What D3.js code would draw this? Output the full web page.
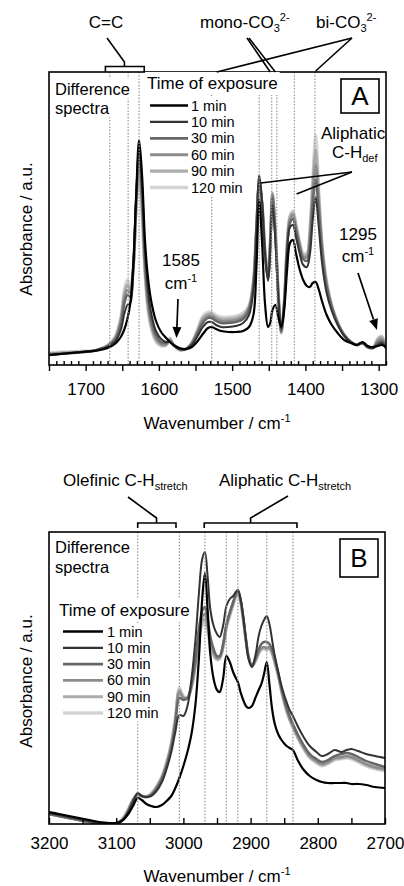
<!DOCTYPE html>
<html><head><meta charset="utf-8">
<script src="https://cdn.jsdelivr.net/npm/d3@7"></script>
<style>
body{margin:0;background:#fff}
svg{display:block}
text{font-family:"Liberation Sans",Arial,Helvetica,sans-serif;fill:#000}
</style>
</head><body>
<svg id="c" width="404" height="886"></svg>
<script>
// ---------- DATA ----------
const seriesNames = ["1 min","10 min","30 min","60 min","90 min","120 min"];

// Panel A: 1750-1290 cm-1
const wnA = [1750,1735,1720,1705,1690,1680,1670,1660,1652,1647,
 1643,1639,1635,1631,1627,1623,1619,1615,1610,1604,
 1597,1590,1585,1580,1572,1563,1555,1547,1540,1533,
 1528,1522,1515,1505,1495,1485,1477,1471,1467,1463,
 1459,1455,1451,1448,1445,1441,1437,1433,1429,1425,
 1421,1417,1413,1408,1403,1398,1394,1390,1386,1382,
 1377,1371,1364,1356,1347,1338,1330,1322,1315,1308,
 1301,1296,1290];
const a1 = [10,11,12,13,14,15,17,21,28,36,
 46,62,100,170,225,190,125,88,62,44,
 33,27,23,20,17,16,18,24,31,37,
 38,36,34,33,33,34,38,50,95,165,
 120,60,38,42,55,60,48,38,55,95,
 122,125,112,96,85,79,78,82,83,76,
 63,50,40,32,25,22,20,23,19,18,
 19,20,18];
const a10 = [10,11,12,13,14,16,18,23,35,52,
 60,62,98,168,220,180,115,76,50,34,
 26,23,23,20,16,16,20,29,38,43,
 43,40,38,38,39,42,50,75,130,190,
 162,110,84,115,160,125,68,36,60,112,
 138,140,128,112,100,98,110,145,168,140,
 100,72,54,40,29,23,20,22,18,17,
 20,22,17];
const a30 = [10,11,12,13,14,16,19,25,40,62,
 70,68,95,165,212,170,105,68,44,30,
 23,22,24,20,16,16,21,32,42,47,
 47,44,42,42,43,46,55,80,135,185,
 160,110,86,120,168,130,70,34,60,115,
 142,146,135,118,106,104,120,160,185,155,
 110,78,58,42,30,23,20,22,18,17,
 22,24,17];
const a60 = [11,12,12,13,14,16,19,26,44,68,
 75,72,95,160,205,162,98,62,40,27,
 21,21,25,20,16,16,22,34,45,49,
 49,46,44,44,45,48,57,82,135,183,
 160,112,88,122,171,132,72,33,62,118,
 146,150,138,120,108,108,128,172,200,165,
 115,80,58,42,30,23,20,22,18,17,
 24,26,17];
const a90 = [11,12,13,13,14,16,19,27,46,72,
 80,76,96,158,200,156,94,58,37,25,
 20,20,26,20,15,16,22,35,47,51,
 51,48,46,46,47,50,58,83,134,180,
 160,113,89,123,172,133,73,32,62,120,
 148,152,140,122,110,110,132,180,215,172,
 118,82,59,42,30,23,20,22,18,17,
 26,28,18];
const a120 = [12,13,13,14,14,16,20,28,48,76,
 85,80,98,156,195,150,90,55,35,23,
 19,20,27,20,15,16,23,36,49,53,
 53,50,48,48,49,52,60,85,134,178,
 160,114,90,124,172,134,74,32,63,122,
 150,154,142,124,112,112,136,188,230,180,
 120,84,60,43,30,23,20,22,18,17,
 27,29,18];

// Panel B: 3200-2700 cm-1
const wnB = [3200,3185,3170,3155,3140,3125,3110,3100,3090,3082,
 3075,3068,3062,3055,3048,3040,3032,3025,3018,3012,
 3006,3000,2994,2988,2982,2977,2972,2968,2964,2960,
 2955,2950,2946,2941,2936,2931,2926,2922,2919,2915,
 2911,2907,2903,2898,2893,2888,2884,2880,2876,2872,
 2868,2864,2859,2854,2848,2842,2837,2830,2822,2812,
 2802,2794,2785,2775,2765,2757,2750,2740,2728,2715,
 2700];
const b1 = [12,10,8,6,4,2,1,1,4,10,
 18,26,24,20,18,17,19,23,28,36,
 46,58,72,90,120,165,225,251,215,170,
 145,134,132,145,168,162,152,146,142,132,
 124,118,116,118,126,134,140,150,162,140,
 115,100,90,84,79,76,74,64,55,48,
 44,42,41,41,41,41,40,40,39,37,
 36];
const b10 = [11,9,7,5,3,1,0,0,4,12,
 22,31,28,27,28,33,42,55,72,92,
 109,108,118,145,185,230,265,272,248,215,
 198,190,187,198,218,225,228,232,234,225,
 208,185,165,157,168,188,198,204,208,200,
 184,168,152,138,125,114,108,98,88,78,
 72,68,70,74,72,74,75,73,70,68,
 66];
const b30 = [10,8,6,4,2,0,0,0,4,13,
 23,30,28,27,29,35,45,58,76,100,
 126,124,126,140,165,195,213,217,205,188,
 175,168,168,180,200,212,222,230,234,225,
 207,185,167,158,165,175,180,182,182,180,
 175,166,152,136,120,108,100,90,80,70,
 65,62,64,68,70,71,70,67,63,60,
 57];
const b60 = [10,8,6,4,2,0,0,0,5,14,
 24,30,28,27,29,36,46,60,78,103,
 132,126,126,138,162,190,207,210,200,184,
 172,166,167,178,198,210,221,229,233,224,
 206,184,167,158,164,172,176,177,176,177,
 172,163,150,134,118,106,98,88,78,68,
 63,60,62,66,67,68,67,64,60,57,
 55];
const b90 = [10,8,6,4,2,0,0,0,5,14,
 24,29,28,27,30,37,47,61,80,105,
 134,127,126,137,160,186,202,205,196,181,
 170,165,166,177,197,209,220,228,232,223,
 205,184,167,158,163,171,175,176,175,176,
 171,162,149,133,117,105,97,87,77,67,
 62,59,61,65,66,67,66,63,59,56,
 54];
const b120 = [10,8,6,4,2,0,0,1,6,15,
 25,29,28,28,31,38,48,62,82,107,
 136,128,126,136,158,183,198,200,192,178,
 168,164,165,176,196,208,219,227,231,222,
 204,183,167,158,162,170,174,175,174,175,
 170,161,148,132,116,104,96,86,76,66,
 61,58,60,64,65,66,65,62,58,55,
 53];

const dottedA = [1667,1642,1627,1528,1463,1446,1439,1415,1387];
const dottedB = [3068,3006,2968,2936,2919,2876,2837];
const tickLabelsA = [1700,1600,1500,1400,1300];
const tickLabelsB = [3200,3100,3000,2900,2800,2700];
const majorTicksA = [1750,1700,1650,1600,1550,1500,1450,1400,1350,1300];
const majorTicksB = [3200,3150,3100,3050,3000,2950,2900,2850,2800,2750,2700];

// ---------- STYLE ----------
const colors = ["#000000","#333333","#666666","#8c8c8c","#adadad","#d4d4d4"];
const widths = [2.2,2.0,2.4,2.6,2.8,3.0];
const FONT = 17;
const LEGFONT = 14.5;

const svg = d3.select("#c");

function panel(o){
  const x = d3.scaleLinear().domain(o.domain).range([o.l,o.r]);
  const y = d3.scaleLinear().domain([0,o.ymax]).range([o.b,o.t]);
  const g = svg.append("g");
  svg.append("clipPath").attr("id","clip"+o.name).append("rect")
    .attr("x",o.l).attr("y",o.t).attr("width",o.r-o.l).attr("height",o.b-o.t);
  const line = d3.line().x((d,i)=>x(o.wn[i])).y(d=>y(d)).curve(d3.curveCatmullRom.alpha(0.5));
  const gl = g.append("g").attr("clip-path","url(#clip"+o.name+")");
  for(let k=o.series.length-1;k>=0;k--){
    gl.append("path").attr("d",line(o.series[k])).attr("fill","none")
      .attr("stroke",colors[k]).attr("stroke-width",widths[k])
      .attr("stroke-linejoin","round").attr("stroke-linecap","round");
  }
  g.append("g").selectAll("line").data(o.dotted).join("line")
    .attr("x1",d=>x(d)).attr("x2",d=>x(d)).attr("y1",o.t).attr("y2",o.b)
    .attr("stroke","#9a9a9a").attr("stroke-width",1.2).attr("stroke-dasharray","1.6,1.6");
  g.append("rect").attr("x",o.l).attr("y",o.t).attr("width",o.r-o.l).attr("height",o.b-o.t)
    .attr("fill","none").attr("stroke","#000").attr("stroke-width",1.6);
  return {x,y,g};
}

function styleAxis(sel){
  sel.select(".domain").remove();
  sel.selectAll("line").attr("stroke","#000").attr("stroke-width",1.4);
  sel.selectAll("text").attr("font-size",FONT).attr("font-family","Liberation Sans, Arial, sans-serif").attr("fill","#000");
}

// multipart text
function mtext(parent, parts, x, y, anchor, size){
  const t = parent.append("text").attr("x",x).attr("y",y).attr("font-size",size||FONT)
    .attr("text-anchor",anchor||"start");
  let off=0;
  parts.forEach(p=>{
    const txt = typeof p==="string"?p:p[0];
    const kind = typeof p==="string"?"n":p[1];
    const target = kind==="sub"?4:(kind==="sup"?-7:0);
    const ts = t.append("tspan").text(txt).attr("dy",target-off);
    if(kind!=="n") ts.attr("font-size",11);
    off=target;
  });
  return t;
}
function whiteBg(t,pad){
  const bb = t.node().getBBox();
  const r = document.createElementNS("http://www.w3.org/2000/svg","rect");
  t.node().parentNode.insertBefore(r, t.node());
  d3.select(r).attr("x",bb.x-pad).attr("y",bb.y-pad).attr("width",bb.width+2*pad)
    .attr("height",bb.height+2*pad).attr("fill","#fff");
}
function arrow(x1,y1,x2,y2){
  const dx=x2-x1, dy=y2-y1, L=Math.hypot(dx,dy), ux=dx/L, uy=dy/L;
  const hl=11, hw=4.5;
  const bx=x2-ux*hl, by=y2-uy*hl;
  svg.append("line").attr("x1",x1).attr("y1",y1).attr("x2",bx).attr("y2",by)
    .attr("stroke","#000").attr("stroke-width",1.7);
  svg.append("path").attr("d",`M${x2},${y2}L${bx-uy*hw},${by+ux*hw}L${bx+uy*hw},${by-ux*hw}Z`).attr("fill","#000");
}
function seg(pts){
  svg.append("path").attr("d",d3.line()(pts)).attr("fill","none").attr("stroke","#000").attr("stroke-width",1.6);
}
function legend(tx,ty,lx1,lx2,ex,ey0,dy){
  const lg = svg.append("g");
  const title = mtext(lg,["Time of exposure"],tx,ty);
  whiteBg(title,2);
  seriesNames.forEach((n,i)=>{
    const yy = ey0+i*dy;
    const t = mtext(lg,[n],ex,yy,"start",LEGFONT);
    whiteBg(t,0.5);
    lg.append("line").attr("x1",lx1).attr("x2",lx2).attr("y1",yy-5).attr("y2",yy-5)
      .attr("stroke",colors[i]).attr("stroke-width",widths[i]+0.3);
  });
}
function diffLabel(x,y1,y2){
  const g=svg.append("g");
  const t1=mtext(g,["Difference"],x,y1,"start",16.5); whiteBg(t1,1);
  const t2=mtext(g,["spectra"],x,y2,"start",16.5); whiteBg(t2,1);
}
function panelLabel(letter,x,y,w,h){
  svg.append("rect").attr("x",x).attr("y",y).attr("width",w).attr("height",h)
    .attr("fill","#fff").attr("stroke","#000").attr("stroke-width",1.6);
  svg.append("text").attr("x",x+w/2).attr("y",y+h/2+9).attr("text-anchor","middle")
    .attr("font-size",26).text(letter);
}

// ---------- PANEL A ----------
const A = panel({name:"A",l:49,r:386,t:72,b:365,domain:[1750,1290],ymax:293,
  wn:wnA,series:[a1,a10,a30,a60,a90,a120],dotted:dottedA});
const minorA = d3.range(1750,1289,-10).filter(v=>!majorTicksA.includes(v));
svg.append("g").attr("transform","translate(0,365)")
  .call(d3.axisBottom(A.x).tickValues(minorA).tickSize(-4).tickFormat(""))
  .call(styleAxis);
svg.append("g").attr("transform","translate(0,365)")
  .call(d3.axisBottom(A.x).tickValues(majorTicksA).tickSizeInner(6).tickSizeOuter(0).tickPadding(12)
    .tickFormat(d=>tickLabelsA.includes(d)?d:""))
  .call(styleAxis);

diffLabel(55,94.5,113.5);
legend(147,89,150,188,191,110.5,16.4);
panelLabel("A",341,79,38,34);

// annotations A
svg.append("text").attr("x",106).attr("y",28).attr("text-anchor","middle").attr("font-size",FONT).text("C=C");
seg([[A.x(1673),72],[A.x(1673),66.5],[A.x(1620),66.5],[A.x(1620),72]]);
seg([[A.x(1647),66.5],[A.x(1647),62],[107,38]]);
mtext(svg,["mono-CO",["3","sub"],["2-","sup"]],200,28);
mtext(svg,["bi-CO",["3","sub"],["2-","sup"]],316,28);
seg([[247,38],[A.x(1448),72]]);
seg([[249,38],[A.x(1441),72]]);
seg([[352,38],[A.x(1521),72]]);
seg([[352,38],[A.x(1386),71]]);
mtext(svg,["Aliphatic"],321,139);
mtext(svg,["C-H",["def","sub"]],332,158);
seg([[352,172],[A.x(1461),183]]);
seg([[352,172],[A.x(1412),194]]);
mtext(svg,["1585"],181,266,"middle");
mtext(svg,["cm",["-1","sup"]],181,289,"middle");
arrow(178,299,176.5,338);
mtext(svg,["1295"],358,240,"middle");
mtext(svg,["cm",["-1","sup"]],358,262,"middle");
arrow(358,273,377,330);

mtext(svg,["Wavenumber / cm",["-1","sup"]],217,429,"middle");
svg.append("text").attr("transform","translate(32,229) rotate(-90)").attr("text-anchor","middle")
  .attr("font-size",FONT).text("Absorbance / a.u.");

// ---------- PANEL B ----------
const B = panel({name:"B",l:49,r:385,t:532,b:824,domain:[3200,2700],ymax:292,
  wn:wnB,series:[b1,b10,b30,b60,b90,b120],dotted:dottedB});
svg.append("g").attr("transform","translate(0,824)")
  .call(d3.axisBottom(B.x).tickValues(majorTicksB).tickSizeInner(-6).tickSizeOuter(0).tickPadding(13)
    .tickFormat(d=>tickLabelsB.includes(d)?d:""))
  .call(styleAxis);

diffLabel(55,553,572.5);
legend(59,616,63,103,107,636.5,16.3);
panelLabel("B",340,539,38,38);

mtext(svg,["Olefinic C-H",["stretch","sub"]],63,486);
mtext(svg,["Aliphatic C-H",["stretch","sub"]],219,486);
seg([[B.x(3068),528],[B.x(3068),523],[B.x(3011),523],[B.x(3011),528]]);
seg([[B.x(3040),523],[B.x(3040),518],[128,497]]);
seg([[B.x(2969),528],[B.x(2969),523],[B.x(2831),523],[B.x(2831),528]]);
seg([[B.x(2900),523],[B.x(2900),518],[288,496]]);

mtext(svg,["Wavenumber / cm",["-1","sup"]],217,882,"middle");
svg.append("text").attr("transform","translate(32,681) rotate(-90)").attr("text-anchor","middle")
  .attr("font-size",FONT).text("Absorbance / a.u.");
</script>
</body></html>
